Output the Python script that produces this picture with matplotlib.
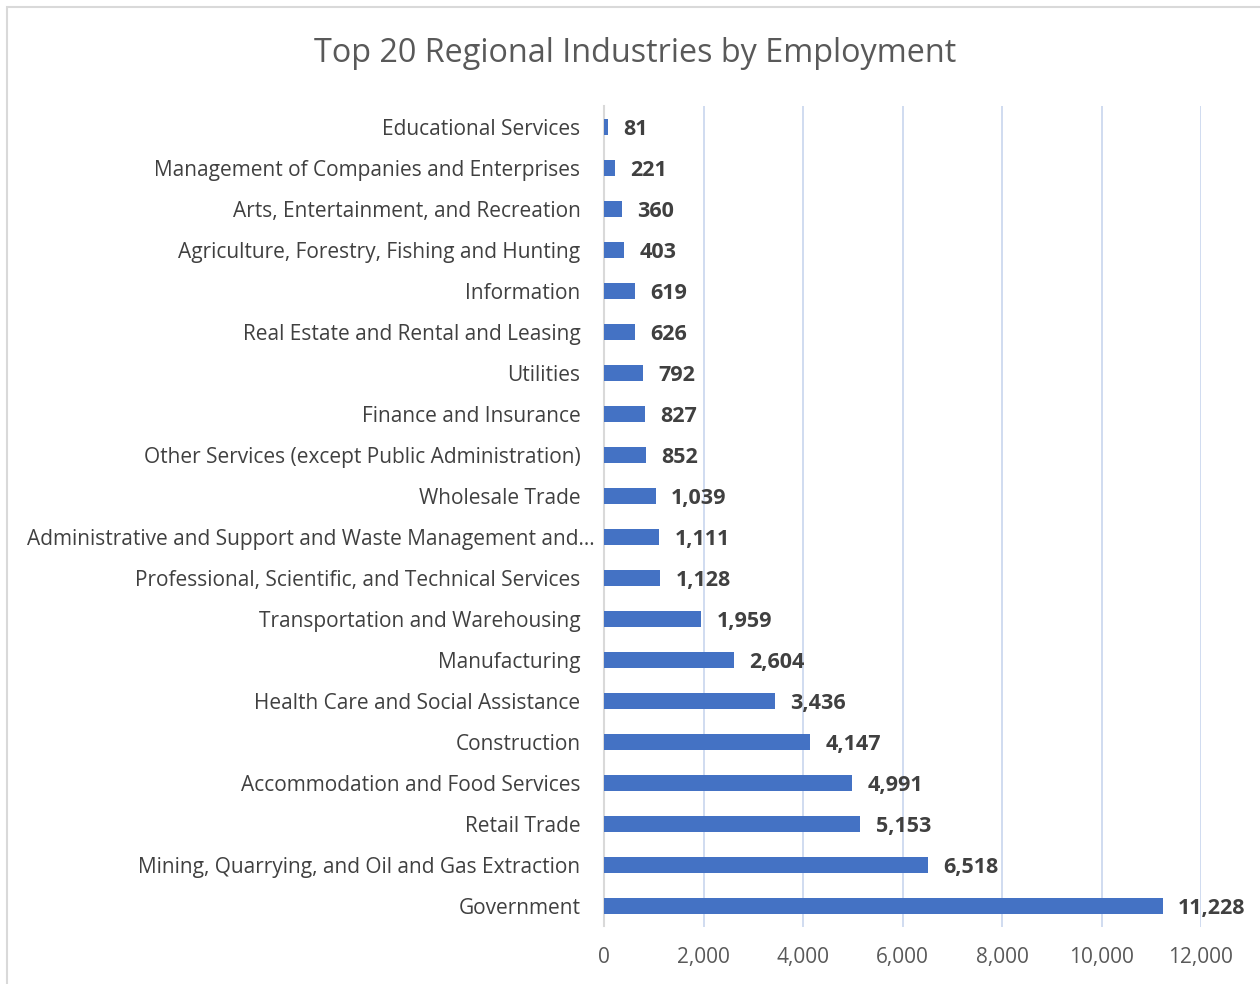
import matplotlib.pyplot as plt
import matplotlib.transforms as mtransforms
from matplotlib.patches import Rectangle
from matplotlib.ticker import FuncFormatter

industries = [
    'Educational Services',
    'Management of Companies and Enterprises',
    'Arts, Entertainment, and Recreation',
    'Agriculture, Forestry, Fishing and Hunting',
    'Information',
    'Real Estate and Rental and Leasing',
    'Utilities',
    'Finance and Insurance',
    'Other Services (except Public Administration)',
    'Wholesale Trade',
    'Administrative and Support and Waste Management and\u2026',
    'Professional, Scientific, and Technical Services',
    'Transportation and Warehousing',
    'Manufacturing',
    'Health Care and Social Assistance',
    'Construction',
    'Accommodation and Food Services',
    'Retail Trade',
    'Mining, Quarrying, and Oil and Gas Extraction',
    'Government',
]
jobs = [81, 221, 360, 403, 619, 626, 792, 827, 852, 1039,
        1111, 1128, 1959, 2604, 3436, 4147, 4991, 5153, 6518, 11228]
x_ticks = [0, 2000, 4000, 6000, 8000, 10000, 12000]

plt.rcParams['font.family'] = ['Open Sans', 'DejaVu Sans']

W, H = 1260, 984
fig = plt.figure(figsize=(W / 100, H / 100), dpi=100)

# chart frame (runs off the right and bottom edges)
fig.patches.append(Rectangle((7 / W, -0.05), 1.1, 1 - 7 / H + 0.05,
                             transform=fig.transFigure, fill=False,
                             edgecolor='#d9d9d9', linewidth=1.5))

ax = fig.add_axes([604 / W, 1 - 926.5 / H, 597 / W, 820 / H])
pos = list(range(len(industries)))
ax.barh(pos, jobs, height=0.37, color='#4472c4', zorder=3)
ax.set_ylim(len(industries) - 0.5, -0.5)
ax.set_xlim(0, 12000)
ax.set_yticks(pos)
ax.set_yticklabels(industries, fontsize=15, color='#404040')
ax.set_xticks(x_ticks)
ax.xaxis.set_major_formatter(FuncFormatter(lambda v, p: f'{int(v):,}'))
ax.tick_params(axis='x', length=0, labelsize=15, labelcolor='#595959', pad=15)
ax.tick_params(axis='y', length=0, pad=17)
ax.grid(axis='x', color='#c8d5ee', linewidth=1.2, zorder=0)
for s in ['top', 'right', 'bottom']:
    ax.spines[s].set_visible(False)
ax.spines['left'].set_color('#d9d9d9')
ax.spines['left'].set_linewidth(1.5)

# the clipped label runs right up to the axis line
for lbl in ax.get_yticklabels():
    if lbl.get_text().endswith('\u2026'):
        shift = mtransforms.ScaledTranslation(14 / 100, 0, fig.dpi_scale_trans)
        lbl.set_transform(lbl.get_transform() + shift)

for p, v in zip(pos, jobs):
    ax.annotate(f'{v:,}', (v, p), xytext=(11, -1.5), textcoords='offset points',
                va='center', ha='left', fontsize=15.5, fontweight='bold',
                color='#404040', zorder=4)

fig.text(635 / W, 1 - 54 / H, 'Top 20 Regional Industries by Employment',
         ha='center', va='center', fontsize=23.3, color='#595959')

fig.savefig('out.png', dpi=100, facecolor='white')
